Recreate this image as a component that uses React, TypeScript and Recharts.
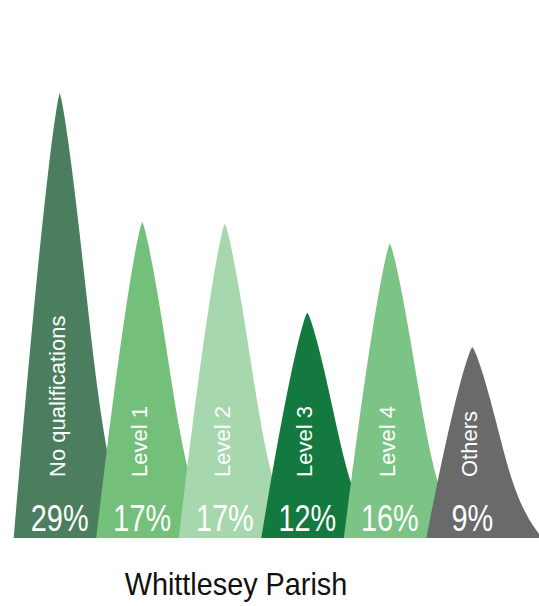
import React from 'react';
import { BarChart, Bar, XAxis, YAxis, Customized } from 'recharts';

const categories = ['No qualifications', 'Level 1', 'Level 2', 'Level 3', 'Level 4', 'Others'];
const percentages = [29, 17, 17, 12, 16, 9];
// peak heights of the drawn shapes, on the original graphic's own scale
const peakHeights = [29, 20.6, 20.5, 14.7, 19.2, 12.45];
const colors = ['#4b7e5e', '#74bf7a', '#a6d7ad', '#14793e', '#7cc485', '#6a6a6a'];
const title = 'Whittlesey Parish';

const data = categories.map((c, i) => ({ category: c, pct: percentages[i], peak: peakHeights[i] }));

const FONT = '"Liberation Sans", Arial, Helvetica, sans-serif';

function buildPath(cx: number, top: number, base: number): string {
  const h = base - top;
  const n = 80;
  const right: string[] = [];
  const left: string[] = [];
  for (let i = 0; i <= n; i++) {
    const t = i / n;
    const y = top + t * h;
    const wr = 50 * Math.pow(t, 0.8) + 20 * Math.pow(t, 6);
    const wl = 46 * Math.pow(t, 0.8);
    right.push(`${(cx + wr).toFixed(2)},${y.toFixed(2)}`);
    left.push(`${(cx - wl).toFixed(2)},${y.toFixed(2)}`);
  }
  left.reverse();
  return `M${right.join(' L')} L${left.join(' L')} Z`;
}

const PeakShape = (props: any) => {
  const { x, y, width, height, index, payload } = props;
  const cx = x + width / 2;
  const base = y + height;
  const d = buildPath(cx, y, base);
  return (
    <g>
      <path d={d} fill={colors[index]} stroke="none" />
      <text
        transform={`translate(${cx + 5}, ${base - 61}) rotate(-90)`}
        textAnchor="start"
        fill="#ffffff"
        fontFamily={FONT}
        fontSize={22}
      >
        {payload.category}
      </text>
      <text
        transform={`translate(${cx}, ${base - 7}) scale(0.78, 1)`}
        textAnchor="middle"
        fill="#ffffff"
        fontFamily={FONT}
        fontSize={37}
      >
        {`${payload.pct}%`}
      </text>
    </g>
  );
};

const Title = () => (
  <text
    transform="translate(236, 595) scale(0.9, 1)"
    textAnchor="middle"
    fill="#111111"
    fontFamily={FONT}
    fontSize={32}
  >
    {title}
  </text>
);

export default function App() {
  return (
    <div style={{ position: 'absolute', left: 0, top: 0, width: 539, height: 606, background: '#ffffff' }}>
      <BarChart
        width={539}
        height={606}
        data={data}
        margin={{ top: 77.6, right: 25.6, bottom: 68, left: 18.2 }}
        barCategoryGap={0}
      >
        <XAxis dataKey="category" hide />
        <YAxis domain={[0, 30]} hide />
        <Bar dataKey="peak" isAnimationActive={false} shape={PeakShape} />
        <Customized component={Title} />
      </BarChart>
    </div>
  );
}
